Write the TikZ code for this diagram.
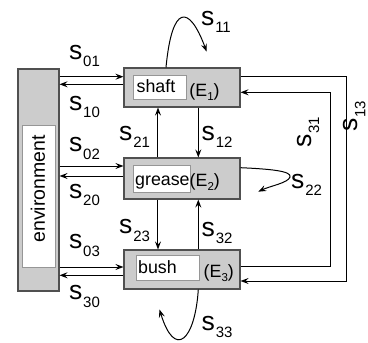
\documentclass[tikz,border=0pt]{standalone}
\usepackage{fontspec}
\setmainfont{Liberation Sans}
\usetikzlibrary{arrows.meta}
\definecolor{boxfill}{RGB}{204,204,204}
\definecolor{boxline}{RGB}{80,80,80}
\definecolor{inline}{RGB}{150,150,150}
\newcommand\slab[1]{s\kern0.8pt\raisebox{-7.5pt}{\fontsize{15}{15}\selectfont #1}}
\newcommand\elab[1]{(E\raisebox{-4pt}{\fontsize{11.5}{12}\selectfont #1})}
\begin{document}
\begin{tikzpicture}[x=1pt,y=-1pt,
  box/.style={draw=boxline, fill=boxfill, line width=1.1pt, inner sep=0pt},
  wbox/.style={draw=inline, fill=white, line width=0.9pt, inner sep=0pt},
  btxt/.style={font=\fontsize{17.8}{18}\selectfont, inner sep=0pt, anchor=base west},
  lbl/.style={font=\fontsize{26.5}{27}\selectfont, inner sep=0pt, anchor=base west},
  arr/.style={line width=1pt, -{Stealth[length=8pt,width=6pt,inset=3pt]}},
  ln/.style={line width=1pt}
]
\useasboundingbox (0,0) rectangle (368,343);
% environment
\node[box, minimum width=41pt, minimum height=222pt] (env) at (38.5,180) {};
\node[wbox, minimum width=33pt, minimum height=142pt] (envin) at (38.5,196) {};
\node[rotate=90, font=\fontsize{19.5}{20}\selectfont, inner sep=0pt] (envt) at (38,189) {environment};
% shaft
\node[box, minimum width=116pt, minimum height=39pt] (shaft) at (182,87.5) {};
\node[wbox, minimum width=53pt, minimum height=24pt] (shaftin) at (159.5,87) {};
\node[btxt] (shaftt) at (136.5,92) {shaft};
\node[btxt] (e1) at (189.3,96) {\elab{1}};
% grease
\node[box, minimum width=116pt, minimum height=41pt] (grease) at (182,178.5) {};
\node[wbox, minimum width=57pt, minimum height=27pt] (greasein) at (161.5,178.5) {};
\node[btxt] (greaset) at (135,185) {grease};
\node[btxt] (e2) at (189.5,186) {\elab{2}};
% bush
\node[box, minimum width=116pt, minimum height=39pt] (bush) at (182,269.5) {};
\node[wbox, minimum width=63pt, minimum height=25pt] (bushin) at (167.5,267.5) {};
\node[btxt] (busht) at (138,273.3) {bush};
\node[btxt] (e3) at (203.5,277) {\elab{3}};
% env <-> boxes
\draw[arr] (env.east |- 0,76.7) -- (shaft.west |- 0,76.7);
\draw[arr] (shaft.west |- 0,84.3) -- (env.east |- 0,84.3);
\draw[arr] (env.east |- 0,166) -- (grease.west |- 0,166);
\draw[arr] (grease.west |- 0,176) -- (env.east |- 0,176);
\draw[arr] (env.east |- 0,267) -- (bush.west |- 0,267);
\draw[arr] (bush.west |- 0,275.3) -- (env.east |- 0,275.3);
\node[lbl] (l01) at (69,59) {\slab{01}};
\node[lbl] (l10) at (69,110) {\slab{10}};
\node[lbl] (l02) at (69,151.7) {\slab{02}};
\node[lbl] (l20) at (69,198) {\slab{20}};
\node[lbl] (l03) at (69,248.7) {\slab{03}};
\node[lbl] (l30) at (69,299.7) {\slab{30}};
% vertical
\draw[arr] (grease.north -| 158,0) -- (shaft.south -| 158,0);
\draw[arr] (shaft.south -| 198.3,0) -- (grease.north -| 198.3,0);
\draw[arr] (grease.south -| 158,0) -- (bush.north -| 158,0);
\draw[arr] (bush.north -| 198.3,0) -- (grease.south -| 198.3,0);
\node[lbl] (l21) at (119,140) {\slab{21}};
\node[lbl] (l12) at (201.5,140) {\slab{12}};
\node[lbl] (l23) at (119,233.7) {\slab{23}};
\node[lbl] (l32) at (201.5,236) {\slab{32}};
% right loops
\draw[arr] (bush.east |- 0,266.5) -- (330.5,266.5) -- (330.5,92.3) -- (shaft.east |- 0,92.3);
\draw[arr] (shaft.east |- 0,76) -- (347,76) -- (347,281) -- (bush.east |- 0,281);
\node[lbl, rotate=90] (l31) at (311.7,148) {\slab{31}};
\node[lbl, rotate=90] (l13) at (358,132) {\slab{13}};
% self loops
\draw[arr] (shaft.north -| 166,0) .. controls (172,4) and (189,4) .. (206.7,51.7);
\node[lbl] (l11) at (201,25) {\slab{11}};
\draw[arr] (grease.east |- 0,167.7) .. controls (270,169) and (292,171) .. (290,177) .. controls (288,183) and (270,186) .. (258.3,191.7);
\node[lbl] (l22) at (291,188.3) {\slab{22}};
\draw[arr] (bush.south -| 198.3,0) .. controls (195,340) and (175,360) .. (159.5,309.5);
\node[lbl] (l33) at (201.5,330.3) {\slab{33}};
\end{tikzpicture}
\end{document}
